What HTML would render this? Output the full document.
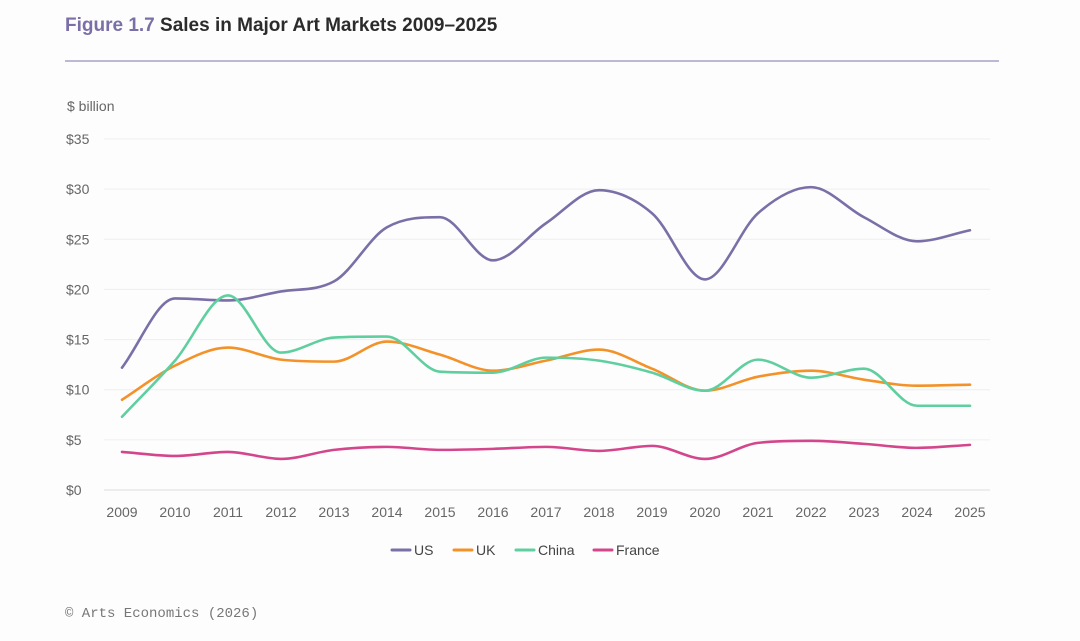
<!DOCTYPE html>
<html><head><meta charset="utf-8"><style>
html,body{margin:0;padding:0;background:#fdfdfd;}
body{width:1080px;height:641px;position:relative;overflow:hidden;font-family:"Liberation Sans",sans-serif;}
</style></head><body>
<svg id="chart" width="1080" height="641" xmlns="http://www.w3.org/2000/svg" style="position:absolute;left:0;top:0">
<text x="65" y="31" font-size="19" font-weight="bold" fill="#2b2b2b"><tspan fill="#7b6fa8">Figure 1.7</tspan> Sales in Major Art Markets 2009–2025</text>
<line x1="65" y1="61" x2="999" y2="61" stroke="#a9a1c6" stroke-width="1.5"/>
<text x="67" y="111" font-size="14" fill="#666">$ billion</text>
<g id="grid"></g><g id="series"></g><g id="legend"></g>
<text x="65" y="617" font-size="14" fill="#777" font-family="Liberation Mono, monospace">© Arts Economics (2026)</text>
</svg>
<script>
const years=[2009,2010,2011,2012,2013,2014,2015,2016,2017,2018,2019,2020,2021,2022,2023,2024,2025];
const yTicks=[0,5,10,15,20,25,30,35];
const usVals=[12.2,19.1,18.9,19.8,20.8,26.2,27.2,22.9,26.6,29.9,27.6,21.0,27.6,30.2,27.2,24.8,25.9];
const ukVals=[9.0,12.4,14.2,13.0,12.8,14.8,13.5,11.9,12.9,14.0,12.1,9.9,11.3,11.9,11.0,10.4,10.5];
const chinaVals=[7.3,12.9,19.4,13.7,15.2,15.3,11.8,11.7,13.2,12.9,11.7,9.9,13.0,11.2,12.1,8.4,8.4];
const franceVals=[3.8,3.4,3.8,3.1,4.0,4.3,4.0,4.1,4.3,3.9,4.4,3.1,4.7,4.9,4.6,4.2,4.5];
const seriesNames=["US","UK","China","France"];
const NS="http://www.w3.org/2000/svg";
const colors=["#7b6fa8","#f39229","#5fcf9f","#d4468c"];
const X=i=>122+(970-122)*i/(years.length-1);
const Y=v=>490-v*(490-139)/35;
function mk(t,a,p){const e=document.createElementNS(NS,t);for(const k in a)e.setAttribute(k,a[k]);p.appendChild(e);return e;}
const grid=document.getElementById('grid');
yTicks.forEach(v=>{
 const l=mk('line',{x1:104,x2:990,y1:Y(v),y2:Y(v),stroke:v===0?'#ddd':'#eeeeee','stroke-width':1},grid);
 
 
 const t=mk('text',{x:66,y:Y(v)+5,'font-size':14,fill:'#666'},grid);t.textContent='$'+v;
 
 
});
years.forEach((y,i)=>{
 const t=mk('text',{x:X(i),y:517,'font-size':14,fill:'#666','text-anchor':'middle'},grid);t.textContent=y;
 
 
});
function mono(px,py){
 const n=px.length,d=[],m=[];
 for(let i=0;i<n-1;i++)d.push((py[i+1]-py[i])/(px[i+1]-px[i]));
 m[0]=d[0];m[n-1]=d[n-2];
 for(let i=1;i<n-1;i++){m[i]=(d[i-1]*d[i]<=0)?0:(d[i-1]+d[i])/2;}
 for(let i=0;i<n-1;i++){if(d[i]===0){m[i]=0;m[i+1]=0;continue;}const a=m[i]/d[i],b=m[i+1]/d[i],s=a*a+b*b;if(s>9){const t=3/Math.sqrt(s);m[i]=t*a*d[i];m[i+1]=t*b*d[i];}}
 let p='M'+px[0]+','+py[0];
 for(let i=0;i<n-1;i++){const h=(px[i+1]-px[i])/3;p+=`C${px[i]+h},${py[i]+m[i]*h} ${px[i+1]-h},${py[i+1]-m[i+1]*h} ${px[i+1]},${py[i+1]}`;}
 return p;
}
const sg=document.getElementById('series');
[usVals,ukVals,chinaVals,franceVals].forEach((vals,k)=>{
 const px=vals.map((v,i)=>X(i)),py=vals.map(v=>Y(v));
 const p=mk('path',{d:mono(px,py),fill:'none',stroke:colors[k],'stroke-width':2.6,'stroke-linecap':'round'},sg);
 
 
});
const lg=document.getElementById('legend');
const lx=[392,454,516,594];
seriesNames.forEach((n,k)=>{
 const g=mk('g',{},lg);
 
 
 mk('line',{x1:lx[k],x2:lx[k]+18,y1:550,y2:550,stroke:colors[k],'stroke-width':3,'stroke-linecap':'round'},g);
 const t=mk('text',{x:lx[k]+22,y:555,'font-size':14,fill:'#444'},g);t.textContent=n;
});
</script>
</body></html>
